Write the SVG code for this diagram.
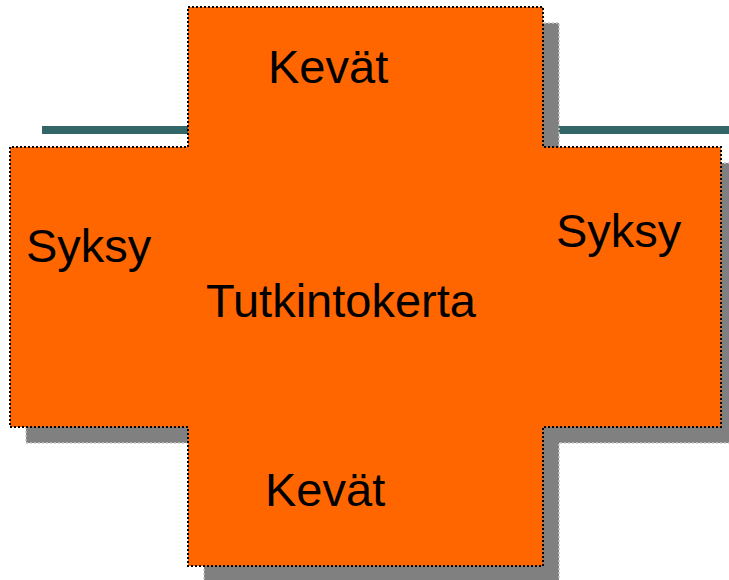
<svg xmlns="http://www.w3.org/2000/svg" width="729" height="580" viewBox="0 0 729 580">
<style>
.bar{fill:#336666}
.shadow{fill:#808080;stroke:#c8c8c8;stroke-width:1.5;stroke-dasharray:2 2}
.cross{fill:#FF6600;stroke:#000;stroke-width:2;stroke-dasharray:2 2}
.lbl{font-family:"Liberation Sans",Arial,sans-serif;font-size:47px;fill:#000}
</style>
<rect width="729" height="580" fill="#fff"/>
<g id="bars">
<rect class="bar" x="42" y="126" width="146" height="8"/>
<rect class="bar" x="545" y="126" width="184" height="8"/>
</g>
<g id="cross">
<path class="shadow" d="M204,23 H559 V163 H737 V443 H559 V582 H204 V443 H26 V163 H204 Z"/>
<path class="cross" d="M188,7 H543 V147 H721 V427 H543 V566 H188 V427 H10 V147 H188 Z"/>
</g>
<g id="labels">
<text class="lbl" x="268" y="83">Kevät</text>
<text class="lbl" x="26" y="262">Syksy</text>
<text class="lbl" x="556" y="247">Syksy</text>
<text class="lbl" x="206" y="317">Tutkintokerta</text>
<text class="lbl" x="265" y="506">Kevät</text>
</g>
</svg>
